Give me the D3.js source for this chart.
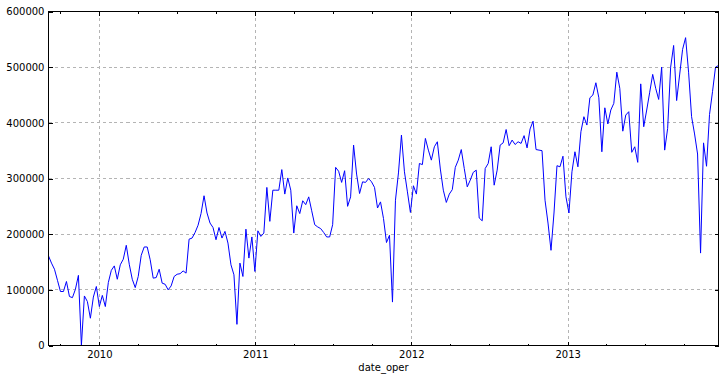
<!DOCTYPE html>
<html>
<head>
<meta charset="utf-8">
<script src="https://cdn.jsdelivr.net/npm/d3@7"></script>
<style>
  body { margin: 0; background: #fff; }
  svg { display: block; font-family: "DejaVu Sans", sans-serif; }
</style>
</head>
<body>
<svg id="chart" width="725" height="381"></svg>
<script>
// weekly series, one value per Friday
const firstWeek = "2009-09-04";
const lastWeek = "2013-12-20";
const weeklyValues = [
  161000,148000,137000,117000,97000,97000,115000,88000,86000,101000,
  126000,0,89000,79000,49000,87000,106000,70000,90000,70000,
  113000,135000,143000,119000,145000,155000,180000,146000,119000,104000,
  124000,162000,177000,177000,154000,121000,122000,137000,112000,110000,
  100000,107000,124000,128000,129000,134000,130000,191000,193000,203000,
  216000,237000,269000,238000,220000,212000,190000,212000,193000,205000,
  184000,145000,127000,38000,148000,124000,209000,157000,195000,133000,
  206000,196000,202000,284000,223000,279000,279000,279000,316000,272000,
  301000,279000,202000,251000,237000,260000,253000,267000,242000,217000,
  213000,210000,203000,195000,195000,217000,320000,313000,293000,314000,
  250000,267000,360000,308000,273000,294000,293000,300000,294000,284000,
  247000,258000,228000,185000,198000,78000,261000,310000,378000,312000,
  276000,239000,287000,272000,327000,325000,372000,351000,333000,357000,
  366000,317000,279000,257000,272000,280000,320000,333000,352000,318000,
  285000,297000,311000,315000,229000,224000,318000,327000,357000,288000,
  315000,360000,364000,388000,359000,369000,361000,366000,363000,377000,
  355000,389000,403000,352000,351000,350000,261000,220000,171000,238000,
  323000,321000,340000,267000,238000,312000,348000,321000,384000,411000,
  396000,445000,450000,472000,445000,348000,427000,398000,423000,435000,
  491000,462000,385000,414000,420000,347000,357000,329000,470000,393000,
  423000,455000,487000,462000,442000,500000,351000,390000,500000,539000,
  440000,486000,532000,553000,491000,411000,380000,344000,166000,364000,
  322000,415000,456000,500000,503000
];
const yTickValues = [0, 100000, 200000, 300000, 400000, 500000, 600000];
const yearLabels = ["2010", "2011", "2012", "2013"];
const xLabel = "date_oper";

const svg = d3.select("#chart");
const plotLeft = 48.5, plotRight = 718.5, plotTop = 11.5, plotBottom = 345.5;

const parse = d3.utcParse("%Y-%m-%d");
const start = parse(firstWeek), end = parse(lastWeek);
const dates = d3.utcFriday.range(start, d3.utcDay.offset(end, 1));
const data = dates.map((d, i) => ({ date: d, value: weeklyValues[i] }));

const x = d3.scaleUtc().domain([start, end]).range([plotLeft, plotRight]);
const y = d3.scaleLinear().domain([0, 600000]).range([plotBottom, plotTop]);

const yearTicks = yearLabels.map(s => parse(s + "-01-01"));
// quarter ticks that are not year starts
const minorTicks = d3.utcMonth.every(3).range(start, end)
  .filter(d => d.getUTCMonth() !== 0);

// grid
const grid = svg.append("g").attr("stroke", "#b4b4b4").attr("stroke-dasharray", "3,3")
  .attr("shape-rendering", "crispEdges");
grid.selectAll(".gx").data(yearTicks).enter().append("line")
  .attr("x1", d => Math.round(x(d)) + 0.5).attr("x2", d => Math.round(x(d)) + 0.5)
  .attr("y1", plotTop).attr("y2", plotBottom);
grid.selectAll(".gy").data(yTickValues).enter().append("line")
  .attr("x1", plotLeft).attr("x2", plotRight)
  .attr("y1", d => Math.round(y(d) - 0.5) + 0.5).attr("y2", d => Math.round(y(d) - 0.5) + 0.5);

// the line
const line = d3.line().x(d => x(d.date)).y(d => y(d.value));
svg.append("path").datum(data)
  .attr("fill", "none").attr("stroke", "#0000ff").attr("stroke-width", 1)
  .attr("stroke-linejoin", "round")
  .attr("d", line);

// axes, ticks pointing inward
function styleAxis(g) {
  g.select(".domain").remove();
  g.selectAll("line").attr("stroke", "#000").attr("shape-rendering", "crispEdges");
  g.selectAll("text").attr("fill", "#000").style("font-size", "10px")
    .style("font-family", "'DejaVu Sans', sans-serif");
}

svg.append("g").attr("transform", `translate(0,${plotBottom})`)
  .call(d3.axisBottom(x).tickValues(yearTicks).tickFormat((d, i) => yearLabels[i])
    .tickSizeInner(-4).tickSizeOuter(0).tickPadding(5))
  .call(styleAxis);
svg.append("g").attr("transform", `translate(0,${plotBottom})`)
  .call(d3.axisBottom(x).tickValues(minorTicks).tickFormat("").tickSizeInner(-2).tickSizeOuter(0))
  .call(styleAxis);
svg.append("g").attr("transform", `translate(0,${plotTop})`)
  .call(d3.axisTop(x).tickValues(yearTicks).tickFormat("").tickSizeInner(-4).tickSizeOuter(0))
  .call(styleAxis);
svg.append("g").attr("transform", `translate(0,${plotTop})`)
  .call(d3.axisTop(x).tickValues(minorTicks).tickFormat("").tickSizeInner(-2).tickSizeOuter(0))
  .call(styleAxis);

svg.append("g").attr("transform", `translate(${plotLeft},0)`)
  .call(d3.axisLeft(y).tickValues(yTickValues).tickFormat(d3.format("d"))
    .tickSizeInner(-4).tickSizeOuter(0).tickPadding(4))
  .call(styleAxis);
svg.append("g").attr("transform", `translate(${plotRight},0)`)
  .call(d3.axisRight(y).tickValues(yTickValues).tickFormat("").tickSizeInner(-4).tickSizeOuter(0))
  .call(styleAxis);

// frame
svg.append("rect")
  .attr("x", plotLeft).attr("y", plotTop)
  .attr("width", plotRight - plotLeft).attr("height", plotBottom - plotTop)
  .attr("fill", "none").attr("stroke", "#000").attr("shape-rendering", "crispEdges");

svg.append("text")
  .attr("x", (plotLeft + plotRight) / 2).attr("y", 371)
  .attr("text-anchor", "middle")
  .style("font-size", "10px").attr("fill", "#000")
  .text(xLabel);
</script>
</body>
</html>
